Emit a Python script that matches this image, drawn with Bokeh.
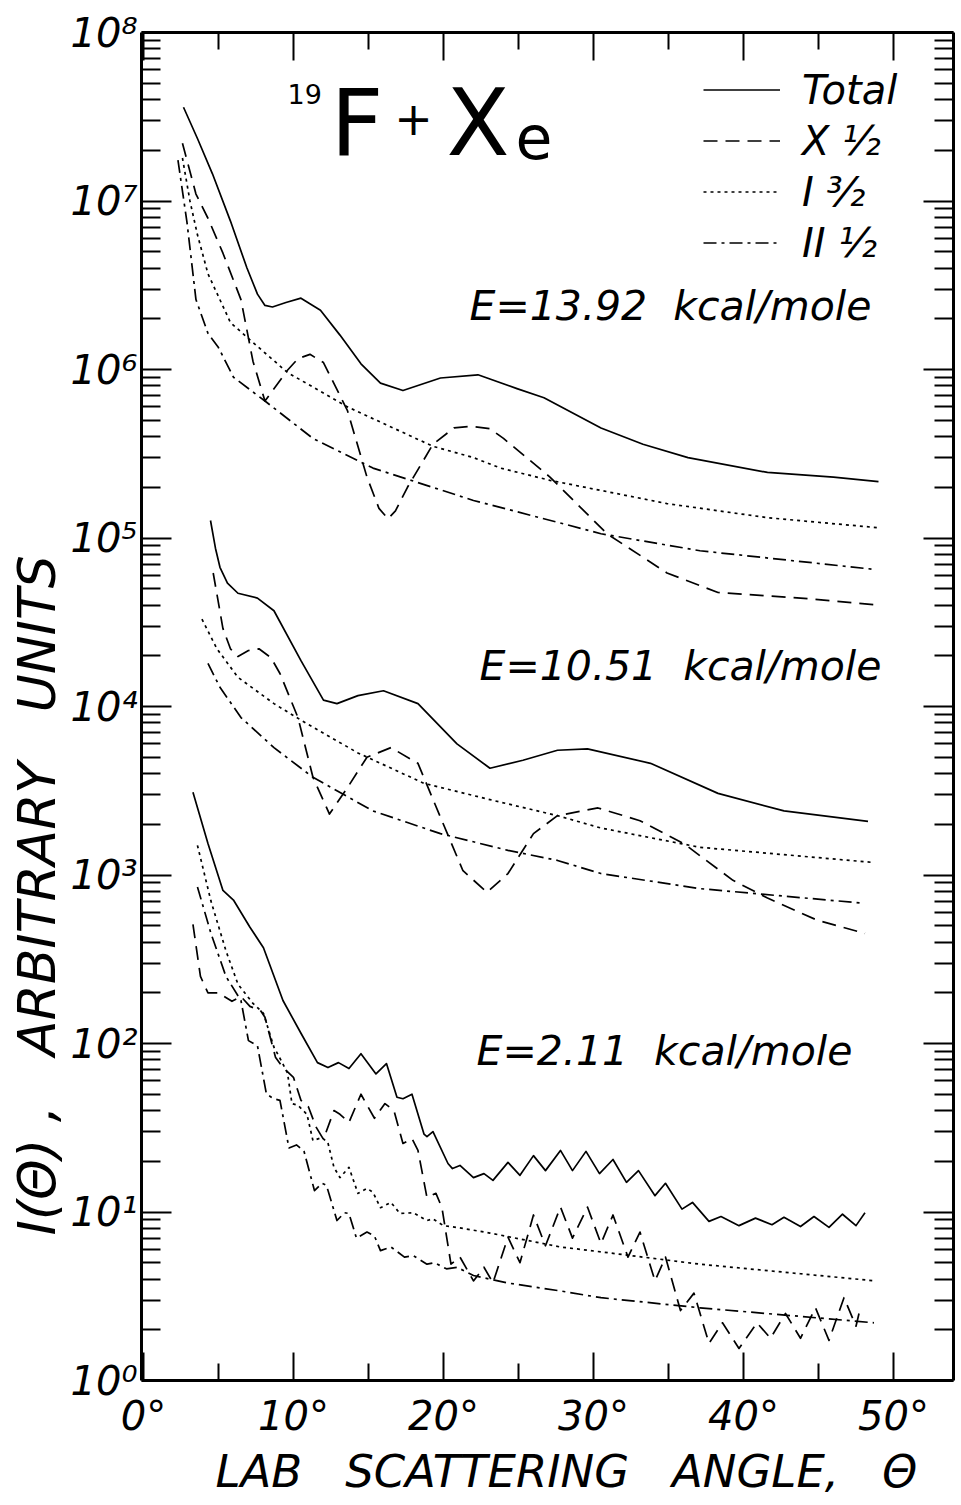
from bokeh.plotting import figure
from bokeh.models import Range1d, FixedTicker, LogAxis, LinearAxis, Label, Legend, LegendItem, Title
from bokeh.embed import file_html
from bokeh.resources import INLINE

# ---------------- data (lab angle in degrees, intensity in arbitrary units) ----------------
# E = 13.92 kcal/mole
e13_total_ang = [2.67, 3.6, 4.6, 5.8, 6.9, 7.6, 8.1, 8.6, 9.5, 10.5, 11.8, 13.1, 14.5, 15.8, 17.3, 19.8,
                 22.3, 24.9, 26.7, 30.5, 33.3, 36.3, 41.6, 46.0, 49.0]
e13_total_int = [3.6e7, 2.35e7, 1.45e7, 7.6e6, 4.0e6, 2.8e6, 2.4e6, 2.35e6, 2.5e6, 2.65e6, 2.25e6, 1.6e6,
                 1.08e6, 8.3e5, 7.5e5, 8.9e5, 9.3e5, 7.7e5, 6.8e5, 4.5e5, 3.6e5, 3.0e5, 2.45e5, 2.3e5, 2.16e5]
e13_x_ang = [2.6, 3.5, 4.3, 5.3, 6.5, 7.3, 8.1, 9.6, 10.3, 11.1, 12.0, 13.6, 14.9, 15.7, 16.3, 16.8, 17.6,
             19.3, 20.7, 21.8, 23.1, 24.0, 27.1, 30.9, 34.9, 38.3, 43.8, 49.0]
e13_x_int = [2.2e7, 1.1e7, 7.9e6, 4.9e6, 2.6e6, 1.12e6, 6.5e5, 9.9e5, 1.16e6, 1.23e6, 1.1e6, 5.7e5, 2.3e5,
             1.5e5, 1.3e5, 1.45e5, 2.0e5, 3.6e5, 4.5e5, 4.6e5, 4.45e5, 3.9e5, 2.3e5, 1.06e5, 6.2e4, 4.75e4,
             4.4e4, 4.0e4]
e13_i_ang = [2.6, 3.1, 3.6, 4.3, 5.8, 7.1, 9.6, 13.6, 19.3, 22.0, 23.8, 27.1, 34.9, 41.6, 49.0]
e13_i_int = [1.8e7, 1.0e7, 6.3e6, 3.7e6, 1.9e6, 1.5e6, 9.6e5, 6.0e5, 3.5e5, 3.0e5, 2.6e5, 2.2e5, 1.6e5,
             1.32e5, 1.15e5]
e13_ii_ang = [2.3, 2.9, 3.5, 4.3, 5.0, 6.0, 8.1, 11.3, 15.3, 22.0, 27.6, 30.5, 37.1, 48.8]
e13_ii_int = [1.75e7, 7.5e6, 2.6e6, 1.64e6, 1.35e6, 9.0e5, 6.5e5, 3.9e5, 2.6e5, 1.67e5, 1.24e5, 1.06e5,
              8.4e4, 6.5e4]

# E = 10.51 kcal/mole
e10_total_ang = [4.47, 4.8, 5.1, 5.6, 6.3, 7.6, 8.7, 10.5, 12.0, 12.9, 14.3, 16.0, 18.3, 20.9, 23.1, 25.3,
                 27.6, 29.6, 33.8, 38.3, 42.7, 48.3]
e10_total_int = [1.27e5, 8.7e4, 6.7e4, 5.4e4, 4.7e4, 4.4e4, 3.7e4, 1.87e4, 1.09e4, 1.04e4, 1.16e4, 1.24e4,
                 1.04e4, 6.0e3, 4.3e3, 4.8e3, 5.5e3, 5.6e3, 4.6e3, 3.05e3, 2.4e3, 2.08e3]
e10_x_ang = [4.65, 5.3, 5.8, 6.3, 7.0, 7.7, 8.5, 9.1, 10.3, 11.3, 12.4, 13.6, 14.9, 16.5, 18.3, 19.8, 21.3,
             22.9, 24.3, 26.0, 27.6, 30.3, 33.1, 36.0, 39.3, 41.6, 44.9, 48.1]
e10_x_int = [6.2e4, 2.9e4, 2.2e4, 1.98e4, 2.15e4, 2.2e4, 1.95e4, 1.57e4, 8.6e3, 3.8e3, 2.3e3, 3.3e3, 5.0e3,
             5.7e3, 4.6e3, 2.2e3, 1.06e3, 7.9e2, 1.02e3, 1.76e3, 2.25e3, 2.5e3, 2.1e3, 1.54e3, 9.3e2, 7.3e2,
             5.4e2, 4.5e2]
e10_i_ang = [3.9, 4.9, 6.3, 8.7, 10.5, 14.3, 18.7, 23.1, 27.6, 30.5, 37.1, 48.5]
e10_i_int = [3.3e4, 2.2e4, 1.49e4, 1.04e4, 8.3e3, 5.3e3, 3.5e3, 2.8e3, 2.25e3, 1.9e3, 1.46e3, 1.19e3]
e10_ii_ang = [4.3, 5.1, 6.5, 8.7, 11.3, 15.3, 19.8, 24.3, 27.6, 30.5, 37.1, 48.0]
e10_ii_int = [1.8e4, 1.3e4, 8.6e3, 5.7e3, 3.8e3, 2.4e3, 1.76e3, 1.4e3, 1.22e3, 1.02e3, 8.3e2, 6.8e2]

# E = 2.11 kcal/mole
e2_total_ang = [3.3, 4.3, 5.3, 6.0, 7.1, 8.0, 9.3, 10.5, 11.6, 12.3, 13.0, 13.7, 14.5, 15.5, 16.2, 16.9,
                17.3, 17.9, 18.7, 18.9, 19.3, 20.3, 20.6, 21.1, 22.0, 22.7, 23.3, 24.3, 25.1, 26.0, 26.8,
                27.8, 28.6, 29.5, 30.4, 31.3, 32.2, 33.0, 34.1, 34.8, 35.9, 36.6, 37.7, 38.5, 39.7, 40.8,
                41.9, 42.7, 43.8, 44.7, 45.7, 46.6, 47.5, 48.1]
e2_total_int = [3.1e3, 1.54e3, 810, 710, 490, 370, 180, 115, 77, 72, 77, 71, 87, 66, 76, 48,
                47, 50, 29, 28, 30, 19.4, 18.1, 18.9, 16.0, 16.9, 15.4, 19.7, 16.5, 21.6, 17.6,
                23.2, 17.6, 22.9, 16.9, 20.5, 15.0, 17.6, 12.5, 14.8, 10.4, 11.4, 8.8, 9.4, 8.3, 9.2,
                8.4, 9.3, 8.2, 9.4, 8.1, 9.7, 8.3, 9.9]
e2_x_ang = [3.3, 3.8, 4.3, 5.0, 5.9, 6.5, 7.1, 7.8, 8.1, 8.8, 9.3, 10.0, 10.5, 11.0, 11.5, 12.0, 12.7,
            13.1, 13.7, 14.5, 15.4, 16.1, 16.7, 17.3, 17.9, 18.3, 18.9, 19.5, 19.9, 20.5, 21.1, 22.0,
            22.7, 23.3, 24.3, 25.1, 26.0, 26.8, 27.8, 28.6, 29.6, 30.5, 31.3, 32.3, 33.1, 34.1, 34.8,
            35.8, 36.7, 37.7, 38.6, 39.7, 40.9, 41.8, 42.8, 43.8, 44.8, 45.7, 46.7, 47.5, 47.7]
e2_x_int = [510, 250, 200, 200, 178, 190, 166, 157, 143, 83, 72, 63, 46, 42, 32, 27, 40,
            38, 34, 50, 36, 44, 40, 25.5, 27.3, 23.2, 12.2, 12.9, 10.6, 4.9, 5.4, 3.9,
            4.7, 3.8, 7.1, 5.0, 9.6, 6.3, 10.7, 7.0, 10.7, 6.5, 9.6, 5.4, 7.6, 3.9, 5.4,
            2.6, 3.3, 1.66, 2.2, 1.55, 2.2, 1.78, 2.5, 1.78, 2.7, 1.73, 3.1, 2.1, 2.5]
e2_i_ang = [3.6, 4.5, 5.5, 6.3, 7.3, 8.0, 8.7, 9.0, 9.6, 9.9, 10.3, 10.9, 11.3, 11.9, 12.3, 12.7, 13.1,
            13.7, 14.3, 14.9, 15.3, 15.8, 16.5, 17.1, 18.0, 18.9, 19.3, 20.0, 20.9, 23.1, 27.8, 30.5,
            37.1, 43.8, 48.8]
e2_i_int = [1.5e3, 700, 355, 225, 173, 151, 95, 85, 67, 44, 43, 38, 26.5, 27.7, 25.7, 18.4, 16.0,
            18.4, 12.9, 13.8, 13.1, 10.6, 11.4, 9.8, 9.9, 8.9, 9.1, 8.3, 8.1, 7.5, 6.2, 5.8,
            4.9, 4.3, 3.9]
e2_ii_ang = [3.6, 4.5, 5.5, 6.5, 7.0, 7.6, 8.2, 8.7, 9.1, 9.7, 10.2, 10.7, 11.4, 11.9, 12.2, 12.9, 13.4,
             13.7, 14.2, 14.9, 15.4, 15.8, 16.5, 17.4, 18.0, 18.9, 19.4, 20.2, 20.9, 22.0, 24.2, 27.8,
             30.5, 37.1, 43.8, 48.7]
e2_ii_int = [850, 450, 250, 180, 104, 97, 50, 47, 46, 24, 25, 23, 13.4, 14.8, 14.4, 8.9, 9.9,
             9.8, 7.0, 7.6, 7.2, 5.9, 6.2, 5.4, 5.5, 4.9, 5.0, 4.6, 4.7, 4.2, 3.8, 3.4,
             3.1, 2.7, 2.4, 2.2]

series_names = ["Total", "X ½", "I ³⁄₂", "II ½"]
energy_labels = ["E=13.92 \u00a0kcal/mole", "E=10.51 \u00a0kcal/mole", "E=2.11 \u00a0kcal/mole"]
x_ticks = [0, 10, 20, 30, 40, 50]
x_minor = [5, 15, 25, 35, 45]
x_tick_labels = ["0°", "10°", "20°", "30°", "40°", "50°"]
y_ticks = [1.0, 10.0, 100.0, 1e3, 1e4, 1e5, 1e6, 1e7, 1e8]
y_tick_labels = ["10⁰", "10¹", "10²", "10³", "10⁴", "10⁵", "10⁶", "10⁷", "10⁸"]
y_minor = [k * d for d in y_ticks[:-1] for k in range(2, 10)]
x_title = "LAB \u00a0\u00a0SCATTERING \u00a0\u00a0ANGLE, \u00a0\u00a0Θ"
y_title = "I(Θ)\u00a0, \u00a0\u00a0ARBITRARY \u00a0\u00a0UNITS"

# ---------------- layout ----------------
FRAME_LEFT, FRAME_TOP, FRAME_W, FRAME_H = 141, 32, 812, 1348   # page pixels
X_MIN, X_MAX = -0.13, 54.0
FONT = "DejaVu Sans"

p = figure(frame_width=FRAME_W, frame_height=FRAME_H,
           x_range=Range1d(X_MIN, X_MAX), y_range=Range1d(1, 1e8), y_axis_type="log",
           output_backend="svg", toolbar_location=None, title=None,
           min_border_left=FRAME_LEFT, min_border_top=FRAME_TOP,
           min_border_right=4, min_border_bottom=124)
p.grid.visible = False
p.outline_line_color = None
p.background_fill_color = "white"
p.border_fill_color = "white"


def page_to_data(px, py):
    x = X_MIN + (px - FRAME_LEFT) * (X_MAX - X_MIN) / FRAME_W
    y = 10 ** (8 - (py - FRAME_TOP) * 8.0 / FRAME_H)
    return x, y


# axes
xax = p.xaxis[0]
yax = p.yaxis[0]
xax.ticker = FixedTicker(ticks=x_ticks, minor_ticks=x_minor)
xax.major_label_overrides = {t: s for t, s in zip(x_ticks, x_tick_labels)}
yax.ticker = FixedTicker(ticks=y_ticks, minor_ticks=y_minor)
yax.major_label_overrides = {t: s for t, s in zip(y_ticks, y_tick_labels)}

top = LinearAxis(ticker=FixedTicker(ticks=x_ticks, minor_ticks=x_minor),
                 major_label_overrides={t: "" for t in x_ticks})
right = LogAxis(ticker=FixedTicker(ticks=y_ticks, minor_ticks=y_minor),
                major_label_overrides={t: "" for t in y_ticks})
p.add_layout(top, "above")
p.add_layout(right, "right")

for ax in (xax, yax, top, right):
    ax.axis_line_width = 3
    ax.axis_line_color = "black"
    ax.major_tick_line_color = "black"
    ax.minor_tick_line_color = "black"
    ax.major_tick_line_width = 2
    ax.minor_tick_line_width = 2
    ax.major_tick_out = 0
    ax.minor_tick_out = 0
    ax.major_label_text_font = FONT
    ax.major_label_text_font_style = "italic"
    ax.major_label_text_font_size = "40px"
    ax.major_label_text_color = "black"
for ax in (xax, top):
    ax.major_tick_in = 28
    ax.minor_tick_in = 17
for ax in (yax, right):
    ax.major_tick_in = 30
    ax.minor_tick_in = 19
xax.major_label_standoff = 12
yax.major_label_standoff = 4
top.major_label_standoff = 0
right.major_label_standoff = 0

# axis titles (side panels, so they are not clipped to the frame)
p.add_layout(Title(text=y_title, align="left", offset=145, standoff=2, text_font=FONT,
                   text_font_style="italic", text_font_size="52px", text_color="black"), "left")
p.add_layout(Title(text=x_title, align="left", offset=74, standoff=2, text_font=FONT,
                   text_font_style="italic", text_font_size="45px", text_color="black"), "below")

# curves
dashes = ["solid", "14 8", "3 4", "13 5 3 5"]
groups = [
    [(e13_total_ang, e13_total_int), (e13_x_ang, e13_x_int), (e13_i_ang, e13_i_int), (e13_ii_ang, e13_ii_int)],
    [(e10_total_ang, e10_total_int), (e10_x_ang, e10_x_int), (e10_i_ang, e10_i_int), (e10_ii_ang, e10_ii_int)],
    [(e2_total_ang, e2_total_int), (e2_x_ang, e2_x_int), (e2_i_ang, e2_i_int), (e2_ii_ang, e2_ii_int)],
]
legend_renderers = []
for gi, grp in enumerate(groups):
    for si, (xs, ys) in enumerate(grp):
        r = p.line(xs, ys, line_color="black", line_width=1.7, line_dash=dashes[si], line_join="round")
        if gi == 0:
            legend_renderers.append(r)

legend = Legend(items=[LegendItem(label=n, renderers=[r]) for n, r in zip(series_names, legend_renderers)],
                location=(562, 1112), border_line_color=None, background_fill_alpha=0,
                padding=0, margin=0, spacing=0, glyph_width=77, glyph_height=51, label_height=51,
                label_standoff=22, label_text_font=FONT, label_text_font_style="italic",
                label_text_font_size="40px", label_text_baseline="middle", label_text_color="black")
p.add_layout(legend)

BASELINE_FIX = 0.4   # the rendered alphabetic baseline sits this many em below the anchor


def add_text(text, px, py, size, align="left", style="italic"):
    x, y = page_to_data(px, py - BASELINE_FIX * size)
    p.add_layout(Label(x=x, y=y, text=text, text_font=FONT, text_font_size=f"{size}px",
                       text_font_style=style, text_align=align, text_baseline="alphabetic",
                       text_color="black"))


# title "19F + Xe"
add_text("19", 287, 104, 27, style="normal")
add_text("F", 330, 160, 92, style="normal")
add_text("+", 413, 136, 46, align="center", style="normal")
add_text("X", 446, 160, 92, style="normal")
add_text("e", 515, 160, 60, style="normal")

# energy annotations
add_text(energy_labels[0], 469, 322, 41)
add_text(energy_labels[1], 479, 682, 41)
add_text(energy_labels[2], 476, 1067, 41)

open("out.html", "w").write(file_html(p, INLINE))
